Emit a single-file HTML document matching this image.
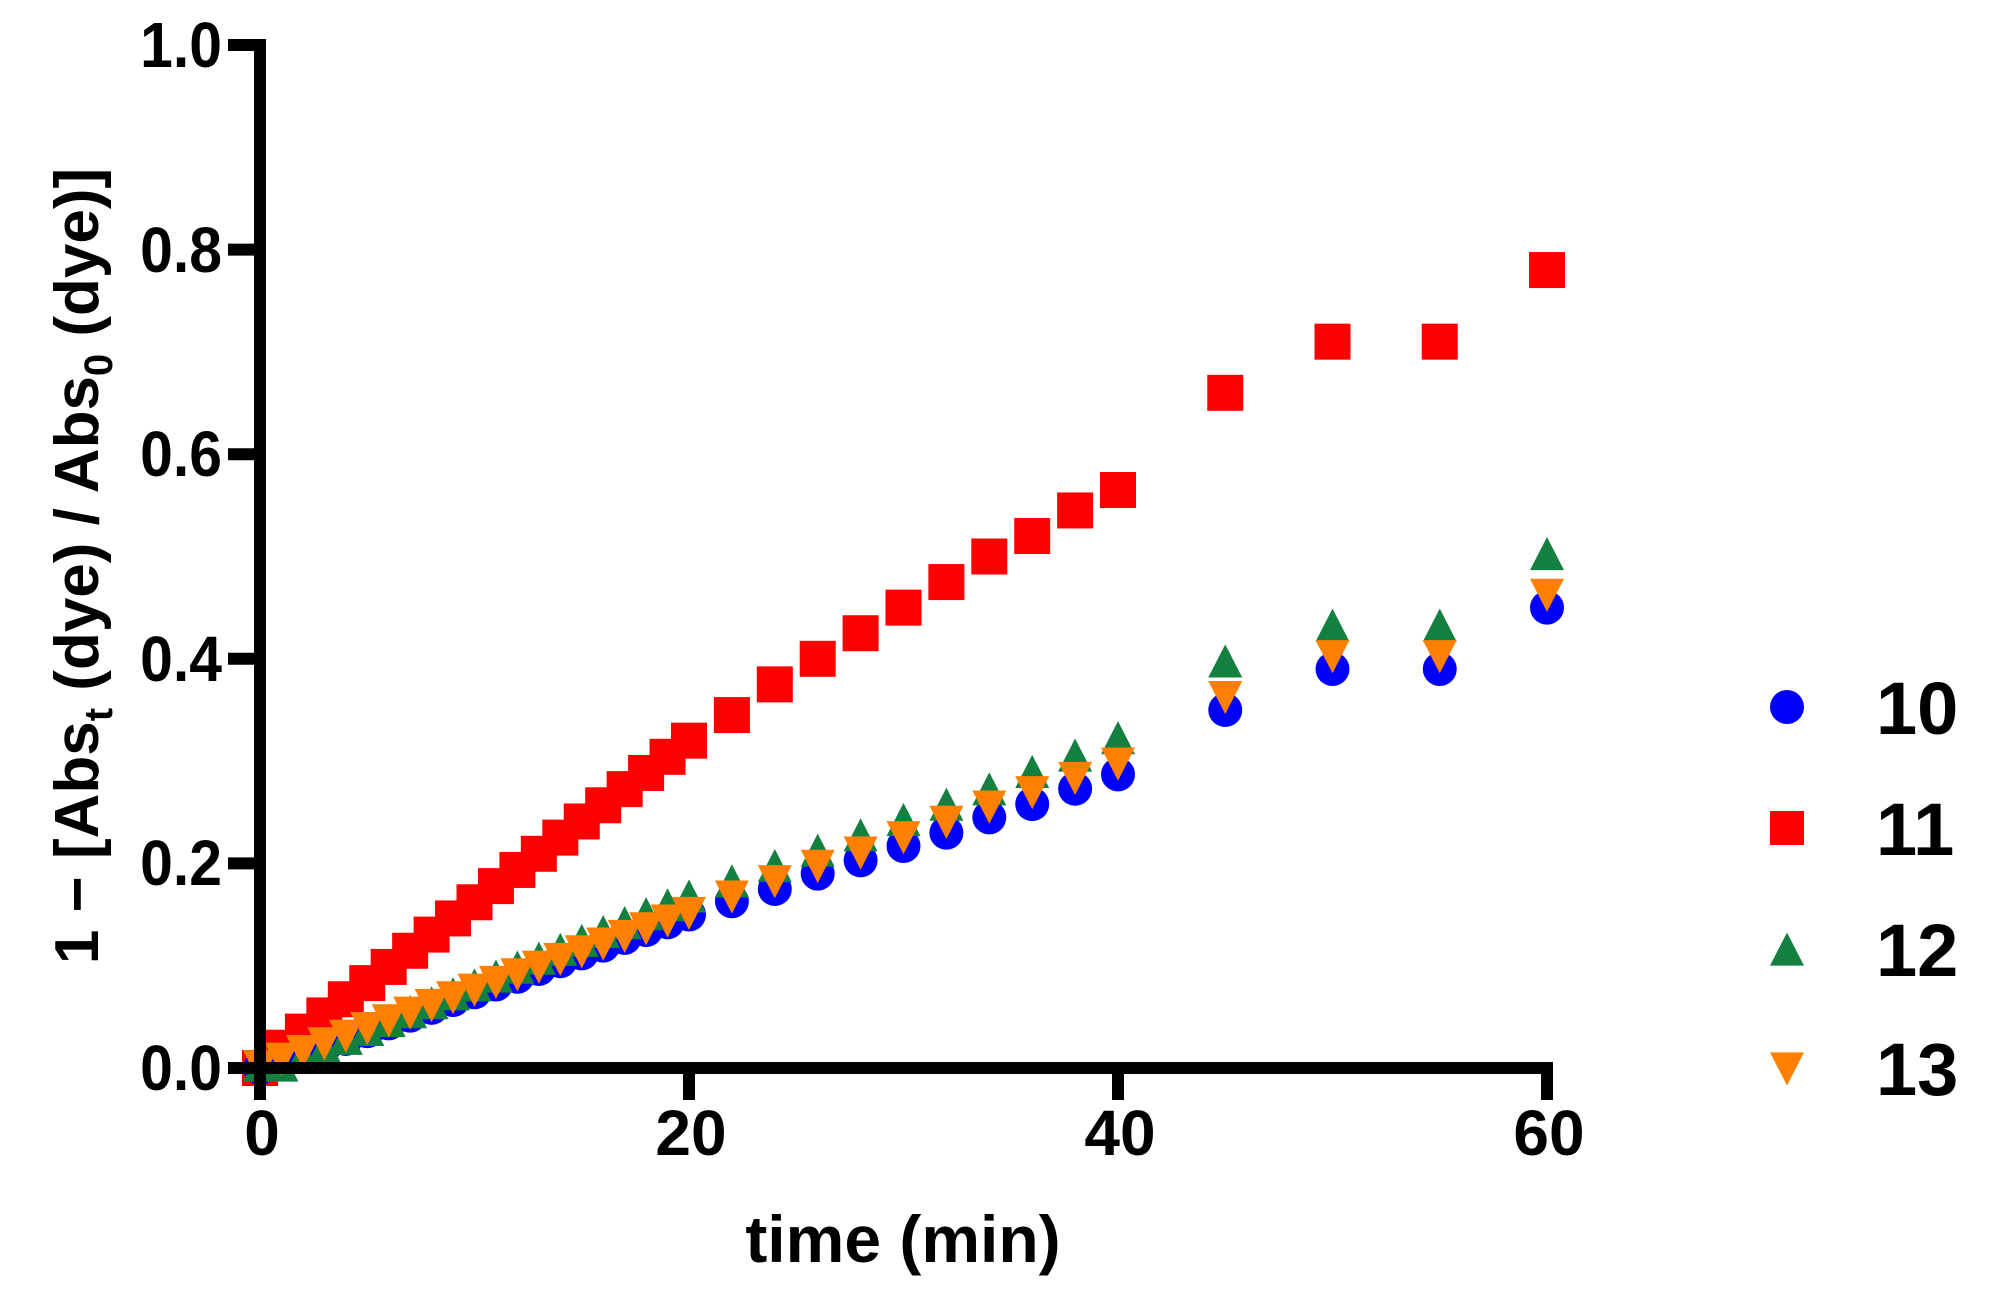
<!DOCTYPE html>
<html><head><meta charset="utf-8"><style>
html,body{margin:0;padding:0;background:#fff;}
svg{display:block;}
text{font-family:"Liberation Sans",Arial,sans-serif;font-weight:bold;fill:#000;}
</style></head><body>
<svg id="s" width="1998" height="1307" viewBox="0 0 1998 1307" xmlns="http://www.w3.org/2000/svg">
<g id="data"></g>
<g stroke="#000" stroke-width="12" fill="none" stroke-linecap="butt">
<path d="M228,45 H260 V1068 H1553"/>
<path d="M228,863.4 H260 M228,658.8 H260 M228,454.2 H260 M228,249.6 H260 M228,1068 H260"/>
<path d="M260,1068 V1100 M689,1068 V1100 M1118,1068 V1100 M1547,1068 V1100"/>
</g>
<g font-size="64" text-anchor="end" transform="translate(222,0) scale(0.92,1) translate(-222,0)">
<text x="222" y="1090">0.0</text>
<text x="222" y="885">0.2</text>
<text x="222" y="681">0.4</text>
<text x="222" y="476">0.6</text>
<text x="222" y="272">0.8</text>
<text x="222" y="67">1.0</text>
</g>
<g font-size="64" text-anchor="middle">
<text x="262" y="1155">0</text>
<text x="691" y="1155">20</text>
<text x="1120" y="1155">40</text>
<text x="1549" y="1155">60</text>
</g>
<text x="903" y="1262" font-size="66" text-anchor="middle">time (min)</text>
<text transform="translate(98,566) rotate(-90)" font-size="62" text-anchor="middle">1 − [Abs<tspan font-size="40" dy="14">t</tspan><tspan dy="-14"> (dye) / Abs</tspan><tspan font-size="40" dy="14">0</tspan><tspan dy="-14"> (dye)]</tspan></text>
<g font-size="74">
<text x="1876" y="734">10</text>
<text x="1876" y="855">11</text>
<text x="1876" y="976">12</text>
<text x="1876" y="1095">13</text>
</g>
<g id="leg"></g>
</svg>
<script>
var NS="http://www.w3.org/2000/svg";
function X(t){return 260+t*21.45;}
function Y(v){return 1068-v*1023;}
function mk(g,type,cx,cy,r){
  var e;
  if(type==0){e=document.createElementNS(NS,"circle");e.setAttribute("cx",cx);e.setAttribute("cy",cy);e.setAttribute("r",r);e.setAttribute("fill","#0000ff");}
  else if(type==1){e=document.createElementNS(NS,"rect");e.setAttribute("x",cx-r);e.setAttribute("y",cy-r);e.setAttribute("width",2*r);e.setAttribute("height",2*r);e.setAttribute("fill","#ff0000");}
  else if(type==2){e=document.createElementNS(NS,"polygon");e.setAttribute("points",(cx)+","+(cy-r*1.15)+" "+(cx-r)+","+(cy+r*0.8)+" "+(cx+r)+","+(cy+r*0.8));e.setAttribute("fill","#138040");}
  else {e=document.createElementNS(NS,"polygon");e.setAttribute("points",(cx)+","+(cy+r*1.15)+" "+(cx-r)+","+(cy-r*0.8)+" "+(cx+r)+","+(cy-r*0.8));e.setAttribute("fill","#ff8000");}
  g.appendChild(e);
}
var ts=[];for(var i=0;i<=20;i++)ts.push(i);for(i=22;i<=40;i+=2)ts.push(i);ts.push(45,50,55,60);
var late={
 1:[0.345,0.375,0.40,0.425,0.45,0.475,0.50,0.52,0.545,0.565,0.66,0.71,0.71,0.78],
 0:[0.163,0.175,0.19,0.203,0.217,0.23,0.245,0.258,0.273,0.287,0.35,0.39,0.39,0.45],
 2:[0.18,0.195,0.21,0.225,0.24,0.255,0.27,0.287,0.303,0.32,0.395,0.43,0.43,0.50],
 3:[0.17,0.185,0.2,0.213,0.228,0.243,0.258,0.272,0.286,0.30,0.365,0.405,0.405,0.465]};
function early(s,t){
  if(s==1) return t==0?0:0.004+t*0.0158;
  if(s==0) return Math.max(0,t*0.0076-0.002);
  if(s==2) return Math.max(0,(t-1)*0.0087);
  return 0.004+t*0.0075;
}
var g=document.getElementById("data");
[1,0,2,3].forEach(function(s){
  ts.forEach(function(t,k){
    var v=k<=20?early(s,t):late[s][k-21];
    mk(g,s,X(t),Y(v),s==1?18:17);
  });
});
var lg=document.getElementById("leg");
mk(lg,0,1787,707,17);mk(lg,1,1787,828,17);mk(lg,2,1787,952,17);mk(lg,3,1787,1066,17);
</script>
</body></html>
